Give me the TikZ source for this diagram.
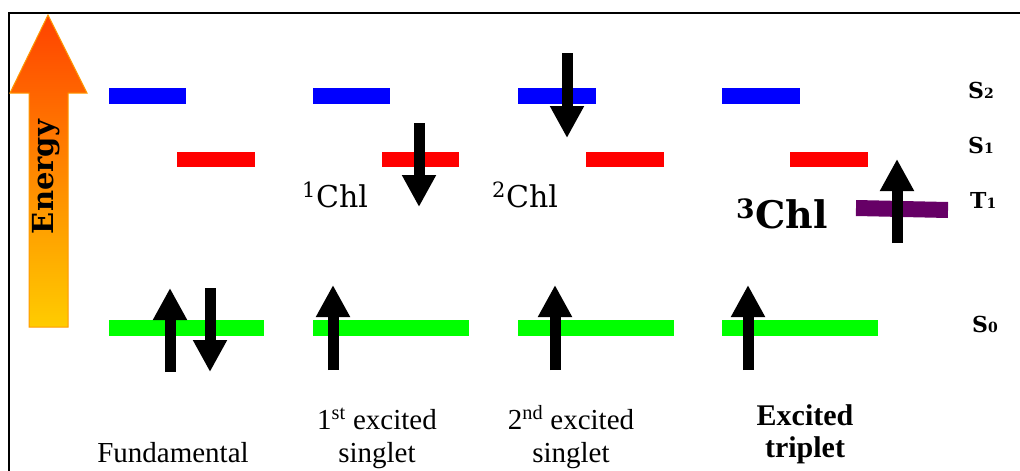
\documentclass[tikz,border=0pt]{standalone}
\usepackage{fontspec}
\setmainfont{Liberation Serif}
\newfontfamily\tnr{Liberation Serif}
\newfontfamily\dvs{DejaVu Serif}
\usetikzlibrary{arrows.meta}
\definecolor{lvblue}{HTML}{0000FF}
\definecolor{lvred}{HTML}{FF0000}
\definecolor{lvgreen}{HTML}{00FF00}
\definecolor{lvpurple}{HTML}{660066}
\definecolor{entop}{HTML}{FF4200}
\definecolor{enmid}{HTML}{FF8C00}
\definecolor{enbot}{HTML}{FFCC00}
\definecolor{enedge}{HTML}{FF9900}
\tikzset{
  level/.style={line width=15.5pt},
  spin/.style={line width=11pt,-{Triangle[length=32pt,width=32pt]}},
  lbl/.style={inner sep=0pt,anchor=base,font=\tnr\fontsize{29}{33}\selectfont},
  chl/.style={inner sep=0pt,anchor=base west,font=\dvs\fontsize{30}{30}\selectfont},
  stlbl/.style={inner sep=0pt,anchor=base west,font=\dvs\bfseries\fontsize{22}{22}\selectfont}
}
\newcommand{\smd}[1]{{\fontsize{14}{14}\selectfont #1}}
\begin{document}
\begin{tikzpicture}[x=1pt,y=-1pt]
\useasboundingbox (0,0) rectangle (1020,471);
% frame
\draw[line width=2pt] (1020,13.3) -- (8.5,13.3) -- (8.5,471);
% energy arrow
\shade[top color=entop,middle color=enmid,bottom color=enbot,draw=enedge,line width=1pt]
  (48,15) -- (87,93) -- (68,93) -- (68,327) -- (29,327) -- (29,93) -- (10,93) -- cycle;
\node[rotate=90,inner sep=0pt,font=\dvs\bfseries\fontsize{29}{29}\selectfont] (energy) at (46,177) {Energy};
% S2 levels
\foreach \a/\b in {109/186,313/390,518/596,722/800}
  \draw[level,lvblue] (\a,96) -- (\b,96);
% S1 levels
\foreach \a/\b in {177/255,382/459,586/664,790/868}
  \draw[level,lvred] (\a,159.5) -- (\b,159.5);
% S0 levels
\foreach \a/\b in {109/264,313/469,518/674,722/878}
  \draw[level,lvgreen] (\a,328) -- (\b,328);
% T1 level
\draw[line width=16pt,lvpurple] (856,208) -- (948,210);
% spins
\draw[spin] (170,372) -- (170,288);
\draw[spin] (210,288) -- (210,372);
\draw[spin] (333,370) -- (333,285);
\draw[spin] (419,123) -- (419,207);
\draw[spin] (555,370) -- (555,285);
\draw[spin] (567,53) -- (567,138);
\draw[spin] (748,370) -- (748,285);
\draw[spin] (897,243) -- (897,159);
% Chl labels
\node[chl] (c1) at (302,207) {\textsuperscript{1}Chl};
\node[chl] (c2) at (492,207) {\textsuperscript{2}Chl};
\node[chl,font=\dvs\bfseries\fontsize{38}{38}\selectfont] (c3) at (736,228) {\textsuperscript{3}Chl};
% state labels
\node[stlbl] (s2) at (968,98) {S\smd{2}};
\node[stlbl] (s1) at (968,153) {S\smd{1}};
\node[stlbl] (t1) at (970,208) {T\smd{1}};
\node[stlbl] (s0) at (972,332) {S\smd{0}};
% bottom labels
\node[lbl] (fund) at (173,462) {Fundamental};
\node[lbl] (e1a) at (377,429) {1\textsuperscript{st} excited};
\node[lbl] (e1b) at (377,462) {singlet};
\node[lbl] (e2a) at (571,429) {2\textsuperscript{nd} excited};
\node[lbl] (e2b) at (571,462) {singlet};
\node[lbl,font=\tnr\bfseries\fontsize{30}{33}\selectfont] (e3a) at (805,425) {Excited};
\node[lbl,font=\tnr\bfseries\fontsize{30}{33}\selectfont] (e3b) at (805,457) {triplet};
\end{tikzpicture}
\end{document}
